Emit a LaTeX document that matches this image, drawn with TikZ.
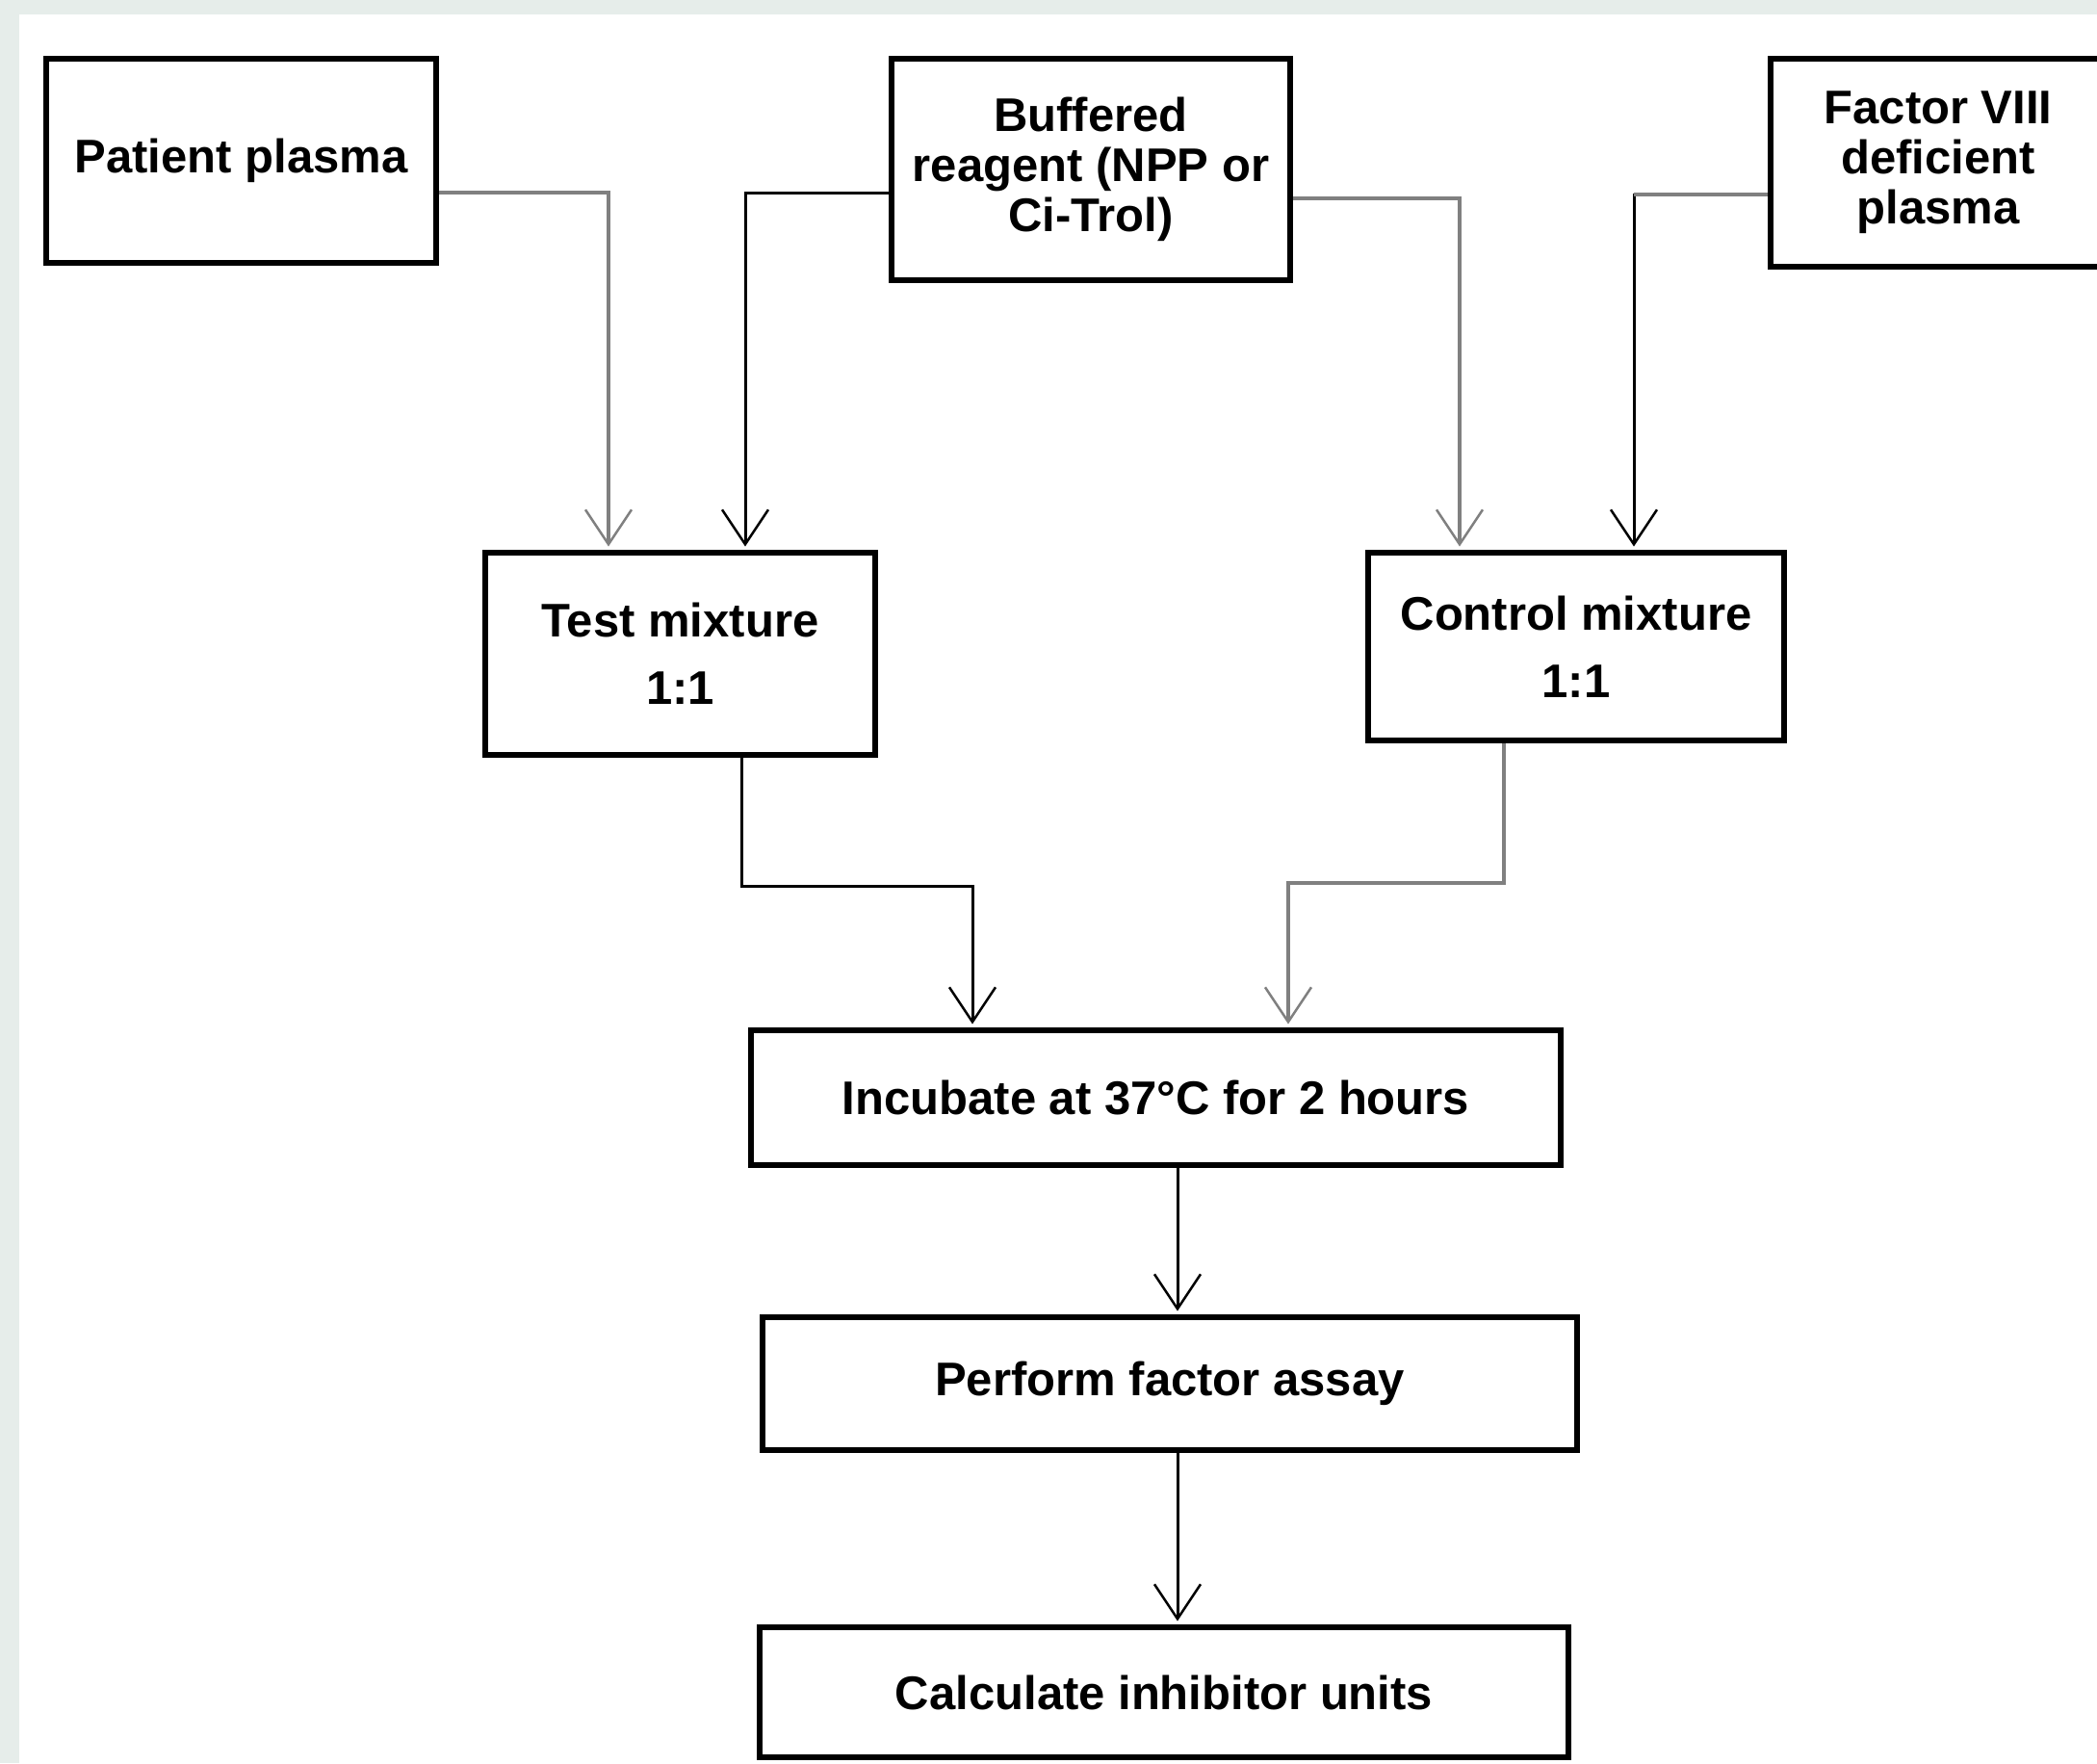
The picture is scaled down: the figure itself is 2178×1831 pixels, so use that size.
\documentclass[tikz,border=0pt]{standalone}
\usepackage{fontspec}
\setmainfont{Liberation Sans}
\usetikzlibrary{arrows.meta}
\definecolor{band}{RGB}{230,237,234}
\definecolor{lgray}{RGB}{128,128,128}
\begin{document}
\begin{tikzpicture}[x=0.5pt,y=-0.5pt,
  box/.style={draw=black, line width=3.25pt, inner sep=0pt, align=center,
    font=\fontsize{24.5pt}{26pt}\selectfont\bfseries, fill=white},
  conn/.style={-{Straight Barb[length=18pt,width=24pt,line width=1.25pt]}, shorten >=1.6pt},
  gconn/.style={conn, draw=lgray, line width=1.75pt},
  bconn/.style={conn, draw=black, line width=1.5pt},
  gline/.style={draw=lgray, line width=1.75pt}]
\fill[band] (0,0) rectangle (2178,1831);
\fill[white] (20,15) rectangle (2178,1831);
\useasboundingbox (0,0) rectangle (2178,1831);

\node[box, minimum width=202.5pt, minimum height=106pt] (pp) at (250.5,167) {Patient plasma};
\node[box, minimum width=207pt, minimum height=115pt] (br) at (1133,176) {Buffered\\reagent (NPP or\\Ci-Trol)};
\node[box, minimum width=174pt, minimum height=108pt] (f8) at (2013,169) {Factor VIII\\deficient\\plasma};
\node[box, minimum width=202.5pt, minimum height=105pt] (tm) at (706.5,679) {Test mixture\\[9pt]1:1};
\node[box, minimum width=216pt, minimum height=97.5pt] (cm) at (1637,671.5) {Control mixture\\[9pt]1:1};
\node[box, minimum width=420.5pt, minimum height=70pt] (inc) at (1200.5,1140) {Incubate at 37°C for 2 hours};
\node[box, minimum width=423pt, minimum height=69pt] (perf) at (1215,1437) {Perform factor assay};
\node[box, minimum width=420pt, minimum height=67.5pt] (calc) at (1209,1757.5) {Calculate inhibitor units};

\coordinate (ya) at (0,200);
\coordinate (yb) at (0,206);
\coordinate (yc) at (0,202);
\coordinate (yd) at (0,920);
\coordinate (ye) at (0,917);
\coordinate (xa) at (632,0);
\coordinate (xb) at (774,0);
\coordinate (xc) at (1516,0);
\coordinate (xd) at (1697,0);
\coordinate (xe) at (770,0);
\coordinate (xf) at (1010,0);
\coordinate (xg) at (1562,0);
\coordinate (xh) at (1338,0);
\coordinate (xi) at (1223,0);

\draw[gconn] (pp.east |- ya) -| (xa |- tm.north);
\draw[bconn] (br.west |- ya) -| (xb |- tm.north);
\draw[gconn] (br.east |- yb) -| (xc |- cm.north);
\draw[bconn] (f8.west |- yc) -| (xd |- cm.north);
\draw[gline] (f8.west |- yc) -- (xd |- yc);
\draw[bconn] (xe |- tm.south) |- (xf |- yd) -- (xf |- inc.north);
\draw[gconn] (xg |- cm.south) |- (xh |- ye) -- (xh |- inc.north);
\draw[bconn] (xi |- inc.south) -- (xi |- perf.north);
\draw[bconn] (xi |- perf.south) -- (xi |- calc.north);
\end{tikzpicture}
\end{document}
